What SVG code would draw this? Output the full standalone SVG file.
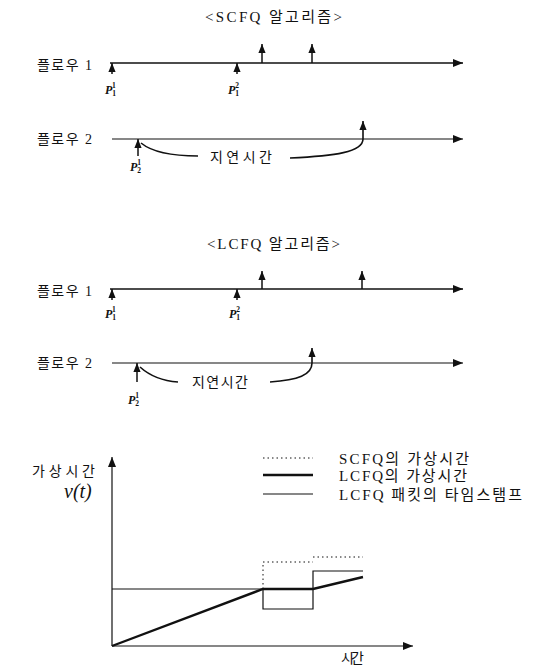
<svg xmlns="http://www.w3.org/2000/svg" width="534" height="669" viewBox="0 0 534 669">
<style>
.ko{font-family:"Liberation Serif","Noto Sans CJK KR",serif;font-size:14px;fill:#111}
.lg{font-family:"Liberation Serif","Noto Sans CJK KR",serif;font-size:15px;fill:#111}
.p{font-family:"Liberation Serif",serif;font-style:italic;font-weight:bold;font-size:12px;fill:#111}
.ps{font-size:7.5px;font-style:normal}
.tl{stroke:#111;stroke-width:1.6;fill:none}
.tl2{stroke:#111;stroke-width:1.2;fill:none}
.ar{stroke:#111;stroke-width:1.5;fill:none}
.cv{stroke:#111;stroke-width:1.6;fill:none}
.thick{stroke:#111;stroke-width:2.4;fill:none}
.thin{stroke:#111;stroke-width:1.2;fill:none}
.dot{stroke:#111;stroke-width:1;fill:none;stroke-dasharray:1.5 3}
</style>
<defs>
<marker id="ah" viewBox="0 0 10 8" refX="10" refY="4" markerWidth="10" markerHeight="8" markerUnits="userSpaceOnUse" orient="auto">
<path d="M0,0 L10,4 L0,8 z" fill="#111"/>
</marker>
<marker id="au" viewBox="0 0 10 8" refX="10" refY="4" markerWidth="9" markerHeight="8" markerUnits="userSpaceOnUse" orient="auto">
<path d="M0,0 L10,4 L0,8 z" fill="#111"/>
</marker>
</defs>

<g id="scfq-title"><text class="lg" x="205" y="22" textLength="137" lengthAdjust="spacing">&lt;SCFQ 알고리즘&gt;</text></g>

<g id="scfq-flow1">
<text class="ko" x="37" y="70" textLength="55" lengthAdjust="spacing">플로우 1</text>
<line class="tl" x1="110" y1="63" x2="463" y2="63" marker-end="url(#ah)"/>
<text class="p" x="105" y="94">P<tspan class="ps" dy="2">1</tspan><tspan class="ps" dx="-3.8" dy="-8">1</tspan></text>
<text class="p" x="228" y="94">P<tspan class="ps" dy="2">1</tspan><tspan class="ps" dx="-3.8" dy="-8">2</tspan></text>
</g>

<g id="scfq-flow2">
<text class="ko" x="37" y="144" textLength="55" lengthAdjust="spacing">플로우 2</text>
<line class="tl2" x1="112" y1="139" x2="463" y2="139" marker-end="url(#ah)"/>
<text class="p" x="130" y="171">P<tspan class="ps" dy="2">2</tspan><tspan class="ps" dx="-3.8" dy="-8">1</tspan></text>
<text class="ko" x="210" y="162" textLength="62" lengthAdjust="spacing">지연시간</text>
</g>

<g id="lcfq-title"><text class="lg" x="207" y="249" textLength="133" lengthAdjust="spacing">&lt;LCFQ 알고리즘&gt;</text></g>

<g id="lcfq-flow1">
<text class="ko" x="37" y="296" textLength="55" lengthAdjust="spacing">플로우 1</text>
<line class="tl" x1="110" y1="289" x2="463" y2="289" marker-end="url(#ah)"/>
<text class="p" x="105" y="318">P<tspan class="ps" dy="2">1</tspan><tspan class="ps" dx="-3.8" dy="-8">1</tspan></text>
<text class="p" x="229" y="318">P<tspan class="ps" dy="2">1</tspan><tspan class="ps" dx="-3.8" dy="-8">2</tspan></text>
</g>

<g id="lcfq-flow2">
<text class="ko" x="37" y="368" textLength="55" lengthAdjust="spacing">플로우 2</text>
<line class="tl2" x1="112" y1="363" x2="463" y2="363" marker-end="url(#ah)"/>
<text class="p" x="128" y="404">P<tspan class="ps" dy="2">2</tspan><tspan class="ps" dx="-3.8" dy="-8">1</tspan></text>
<text class="ko" x="192" y="387" textLength="56" lengthAdjust="spacing">지연시간</text>
</g>

<g id="connectors">
<line class="ar" x1="112" y1="74" x2="112" y2="63" marker-end="url(#au)"/>
<line class="ar" x1="237" y1="74" x2="237" y2="63" marker-end="url(#au)"/>
<line class="ar" x1="262" y1="63" x2="262" y2="44" marker-end="url(#au)"/>
<line class="ar" x1="312" y1="63" x2="312" y2="44" marker-end="url(#au)"/>
<line class="ar" x1="138" y1="156" x2="138" y2="139" marker-end="url(#au)"/>
<path class="cv" d="M141,143 C152,152 172,156 198,156"/>
<path class="cv" d="M290,158 C335,156 363,152 363,139 L363,121" marker-end="url(#au)"/>
<line class="ar" x1="112" y1="300" x2="112" y2="289" marker-end="url(#au)"/>
<line class="ar" x1="237" y1="300" x2="237" y2="289" marker-end="url(#au)"/>
<line class="ar" x1="262" y1="289" x2="262" y2="271" marker-end="url(#au)"/>
<line class="ar" x1="362" y1="289" x2="362" y2="271" marker-end="url(#au)"/>
<line class="ar" x1="137" y1="382" x2="137" y2="363" marker-end="url(#au)"/>
<path class="cv" d="M140,367 C150,376 163,381 178,382"/>
<path class="cv" d="M270,382 C298,380 312,375 312,363 L312,348" marker-end="url(#au)"/>
</g>

<g id="graph">
<line class="thin" x1="112" y1="646" x2="112" y2="457" marker-end="url(#ah)"/>
<line class="thin" x1="112" y1="646" x2="413" y2="646" marker-end="url(#ah)"/>
<text class="ko" x="32" y="476" textLength="63" lengthAdjust="spacing">가상시간</text>
<text x="64" y="498" style="font-family:'Liberation Serif',serif;font-style:italic;font-size:20px;fill:#111">v(t)</text>
<path class="thin" d="M112,589 H263 V609 H313 V571 H363"/>
<path class="thick" d="M112,646 L263,589 H313 L363,577"/>
<path class="dot" d="M263,589 V562 H313 M313,557 H363"/>
<text class="ko" x="341" y="663" textLength="23" lengthAdjust="spacing">시간</text>
</g>

<g id="legend">
<line class="dot" x1="263" y1="458" x2="313" y2="458"/>
<line class="thick" x1="263" y1="475" x2="313" y2="475"/>
<line class="thin" x1="263" y1="494" x2="313" y2="494"/>
<text class="lg" x="339" y="464" textLength="130" lengthAdjust="spacing">SCFQ의 가상시간</text>
<text class="lg" x="339" y="481" textLength="128" lengthAdjust="spacing">LCFQ의 가상시간</text>
<text class="lg" x="339" y="500" textLength="183" lengthAdjust="spacing">LCFQ 패킷의 타임스탬프</text>
</g>
</svg>
